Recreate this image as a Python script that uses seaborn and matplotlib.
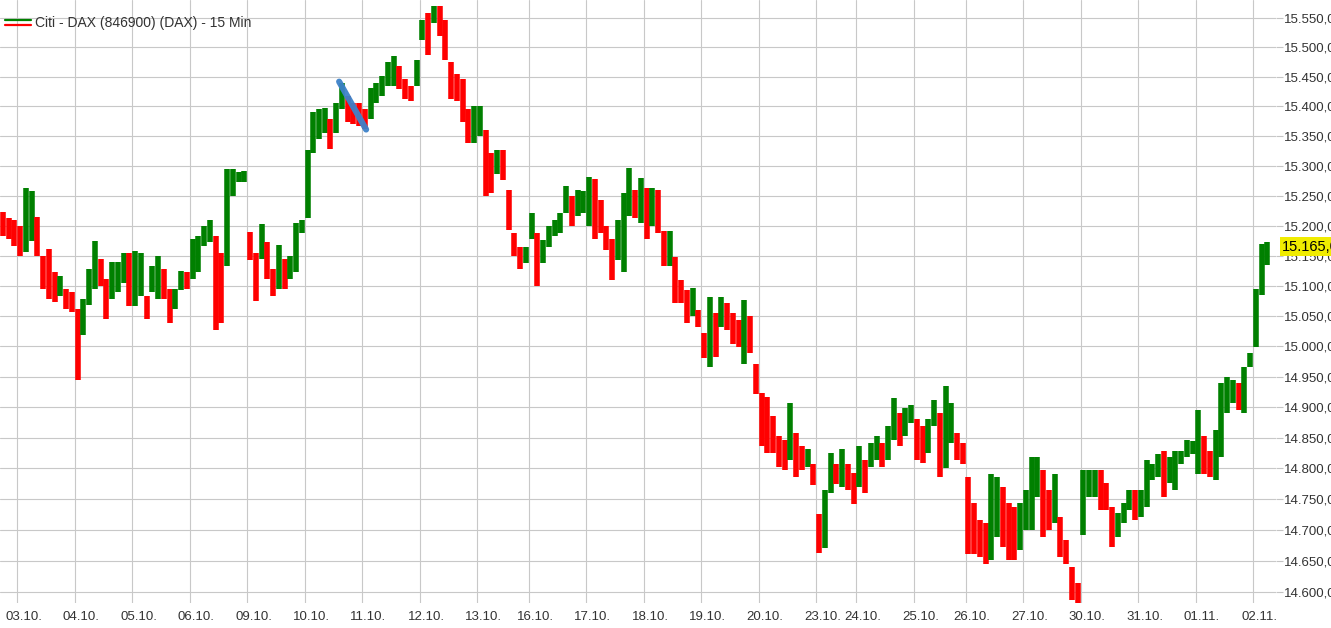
"""DAX 15-min bar chart (Citi feed), Oct/Nov 2023."""

import matplotlib
matplotlib.use("Agg")
import matplotlib.pyplot as plt
import matplotlib.ticker as mticker
import matplotlib.transforms as mtransforms
from matplotlib.lines import Line2D
import numpy as np
import pandas as pd
import seaborn as sns

sns.set_theme(style="whitegrid")
plt.rcParams["font.family"] = ["Liberation Sans", "DejaVu Sans"]

TITLE = "Citi - DAX (846900) (DAX) - 15 Min"

# trading days shown (first one only partly visible, no label)
day_labels = ["02.10.", "03.10.", "04.10.", "05.10.", "06.10.", "09.10.", "10.10.", "11.10.",
              "12.10.", "13.10.", "16.10.", "17.10.", "18.10.", "19.10.", "20.10.", "23.10.",
              "24.10.", "25.10.", "26.10.", "27.10.", "30.10.", "31.10.", "01.11.", "02.11."]
bars_per_day = [3, 10, 10, 10, 10, 10, 10, 10, 10, 9, 10, 10, 10, 10, 10, 7,
                10, 9, 10, 10, 10, 10, 10, 3]

high = [
    15223, 15213, 15210,                                                    # 02.10
    15199, 15262, 15258, 15215, 15150, 15161, 15122, 15116, 15094, 15089,   # 03.10
    15062, 15078, 15127, 15175, 15145, 15111, 15139, 15139, 15155, 15155,   # 04.10
    15158, 15155, 15083, 15133, 15150, 15128, 15094, 15094, 15125, 15122,   # 05.10
    15178, 15183, 15199, 15210, 15183, 15155, 15294, 15294, 15289, 15291,   # 06.10
    15190, 15155, 15202, 15172, 15128, 15167, 15145, 15150, 15204, 15210,   # 09.10
    15327, 15390, 15395, 15398, 15378, 15406, 15440, 15418, 15406, 15406,   # 10.10
    15395, 15432, 15440, 15452, 15475, 15486, 15469, 15446, 15435, 15478,   # 11.10
    15547, 15558, 15570, 15570, 15547, 15475, 15455, 15446, 15395, 15401,   # 12.10
    15401, 15361, 15321, 15327, 15327, 15260, 15187, 15165, 15165,          # 13.10
    15221, 15188, 15176, 15199, 15210, 15221, 15266, 15249, 15260, 15258,   # 16.10
    15282, 15277, 15243, 15199, 15177, 15210, 15254, 15296, 15260, 15280,   # 17.10
    15263, 15263, 15260, 15191, 15191, 15147, 15110, 15093, 15096, 15060,   # 18.10
    15021, 15082, 15054, 15082, 15071, 15054, 15043, 15077, 15049, 14971,   # 19.10
    14923, 14917, 14885, 14853, 14847, 14906, 14858, 14836, 14831, 14808,   # 20.10
    14726, 14765, 14825, 14808, 14831, 14808, 14792,                        # 23.10
    14836, 14814, 14842, 14853, 14842, 14869, 14915, 14891, 14898, 14904,   # 24.10
    14880, 14869, 14880, 14912, 14891, 14934, 14907, 14858, 14842,          # 25.10
    14786, 14744, 14716, 14711, 14791, 14786, 14770, 14744, 14738, 14744,   # 26.10
    14765, 14818, 14818, 14797, 14765, 14791, 14722, 14684, 14640, 14615,   # 27.10
    14797, 14797, 14797, 14797, 14776, 14738, 14727, 14744, 14765, 14765,   # 30.10
    14765, 14813, 14808, 14824, 14829, 14818, 14829, 14829, 14847, 14844,   # 31.10
    14896, 14852, 14829, 14863, 14939, 14950, 14945, 14939, 14966, 14988,   # 01.11
    15095, 15170, 15172,                                                    # 02.11
]

low = [
    15183, 15177, 15166,                                                    # 02.10
    15150, 15156, 15175, 15150, 15095, 15078, 15073, 15083, 15062, 15056,   # 03.10
    14945, 15018, 15068, 15095, 15100, 15045, 15078, 15089, 15105, 15067,   # 04.10
    15067, 15083, 15044, 15089, 15078, 15078, 15039, 15062, 15092, 15094,   # 05.10
    15111, 15122, 15166, 15172, 15027, 15038, 15133, 15250, 15272, 15272,   # 06.10
    15142, 15075, 15145, 15111, 15083, 15094, 15094, 15111, 15122, 15187,   # 09.10
    15213, 15322, 15345, 15356, 15328, 15356, 15396, 15373, 15370, 15367,   # 10.10
    15362, 15378, 15406, 15418, 15435, 15435, 15430, 15412, 15410, 15435,   # 11.10
    15513, 15488, 15541, 15519, 15479, 15412, 15410, 15373, 15339, 15339,   # 12.10
    15350, 15249, 15254, 15287, 15276, 15193, 15149, 15127, 15138,          # 13.10
    15177, 15099, 15138, 15165, 15182, 15188, 15221, 15199, 15216, 15221,   # 16.10
    15199, 15177, 15188, 15160, 15110, 15143, 15122, 15216, 15213, 15205,   # 17.10
    15177, 15199, 15188, 15133, 15133, 15071, 15071, 15038, 15049, 15032,   # 18.10
    14980, 14966, 14982, 15032, 15027, 15004, 14999, 14971, 14988, 14921,   # 19.10
    14836, 14825, 14825, 14803, 14797, 14814, 14786, 14797, 14803, 14773,   # 20.10
    14663, 14672, 14760, 14775, 14770, 14765, 14743,                        # 23.10
    14770, 14760, 14803, 14814, 14803, 14814, 14847, 14836, 14853, 14874,   # 24.10
    14814, 14809, 14825, 14869, 14786, 14800, 14842, 14814, 14808,          # 25.10
    14662, 14662, 14657, 14646, 14652, 14689, 14673, 14652, 14652, 14668,   # 26.10
    14700, 14700, 14754, 14689, 14700, 14711, 14657, 14646, 14588, 14583,   # 27.10
    14692, 14754, 14754, 14733, 14733, 14673, 14689, 14711, 14733, 14716,   # 30.10
    14722, 14738, 14781, 14786, 14754, 14776, 14765, 14808, 14818, 14824,   # 31.10
    14791, 14791, 14786, 14781, 14818, 14890, 14906, 14896, 14890, 14966,   # 01.11
    14998, 15085, 15135,                                                    # 02.11
]

last_price = 15165
price_ticks = [14600, 14650, 14700, 14750, 14800, 14850, 14900, 14950, 15000, 15050,
               15100, 15150, 15200, 15250, 15300, 15350, 15400, 15450, 15500, 15550]
price_range = [14583, 15581]

# hand-drawn trend line (bar position, price)
trend_bar = [58.5, 63.2]
trend_price = [15442, 15361]

UP, DOWN = "#008000", "#ff0000"


def de_fmt(v, _=None):
    return f"{v:,.2f}".replace(",", "X").replace(".", ",").replace("X", ".")


df = pd.DataFrame({"high": high, "low": low})
df["bar"] = np.arange(len(df))
df["mid"] = (df["high"] + df["low"]) / 2
df["color"] = np.where(df["mid"].diff().fillna(-1) >= 0, UP, DOWN)

day_start = np.cumsum([0] + bars_per_day[:-1])

fig = plt.figure(figsize=(13.31, 6.28), dpi=100, facecolor="white")
ax = fig.add_axes([0, 25 / 628, 1276 / 1331, 603 / 628])
ax.set_facecolor("white")

ax.vlines(df["bar"], df["low"], df["high"], colors=df["color"],
          linewidth=4.0, capstyle="butt", zorder=2)
sns.lineplot(x=trend_bar, y=trend_price, ax=ax, color="#3d82c9", linewidth=4.4,
             solid_capstyle="round", alpha=0.95, zorder=3, legend=False)

ax.set_yscale("log")
ax.set_ylim(*price_range)
ax.set_xlim(-0.5, len(df) + 0.5)
ax.yaxis.set_major_locator(mticker.FixedLocator(price_ticks))
ax.yaxis.set_minor_locator(mticker.NullLocator())
ax.yaxis.set_major_formatter(mticker.FuncFormatter(de_fmt))
ax.yaxis.tick_right()
ax.tick_params(axis="y", length=5, width=0.8, color="#c4c4c4", pad=1.0,
               labelsize=9.5, labelcolor="#333333")

ax.set_xticks(day_start[1:] - 0.5)
ax.set_xticklabels(day_labels[1:])
ax.tick_params(axis="x", length=0, pad=5.5, labelsize=9.5, labelcolor="#333333")
shift = mtransforms.ScaledTranslation(-12 / 100, 0, fig.dpi_scale_trans)
for lbl in ax.get_xticklabels():
    lbl.set_horizontalalignment("left")
    lbl.set_transform(lbl.get_transform() + shift)

ax.grid(True, color="#c8c8c8", linewidth=0.8)
ax.set_axisbelow(True)
for s in ax.spines.values():
    s.set_visible(False)
ax.set_xlabel("")
ax.set_ylabel("")

# last price tag
ax.annotate(de_fmt(last_price), xy=(1, last_price), xycoords=("axes fraction", "data"),
            xytext=(6, 0), textcoords="offset pixels", ha="left", va="center",
            fontsize=10.5, color="black", annotation_clip=False, zorder=5,
            bbox=dict(boxstyle="square,pad=0.15", fc="#f0ec00", ec="none"))

# legend swatch + title
fig.add_artist(Line2D([5 / 1331, 31 / 1331], [1 - 20 / 628] * 2, transform=fig.transFigure,
                      color=UP, linewidth=1.6))
fig.add_artist(Line2D([5 / 1331, 31 / 1331], [1 - 25 / 628] * 2, transform=fig.transFigure,
                      color=DOWN, linewidth=1.6))
fig.text(35 / 1331, 1 - 23 / 628, TITLE, ha="left", va="center", fontsize=10, color="#333333")

fig.savefig("out.png", dpi=100, facecolor="white")
